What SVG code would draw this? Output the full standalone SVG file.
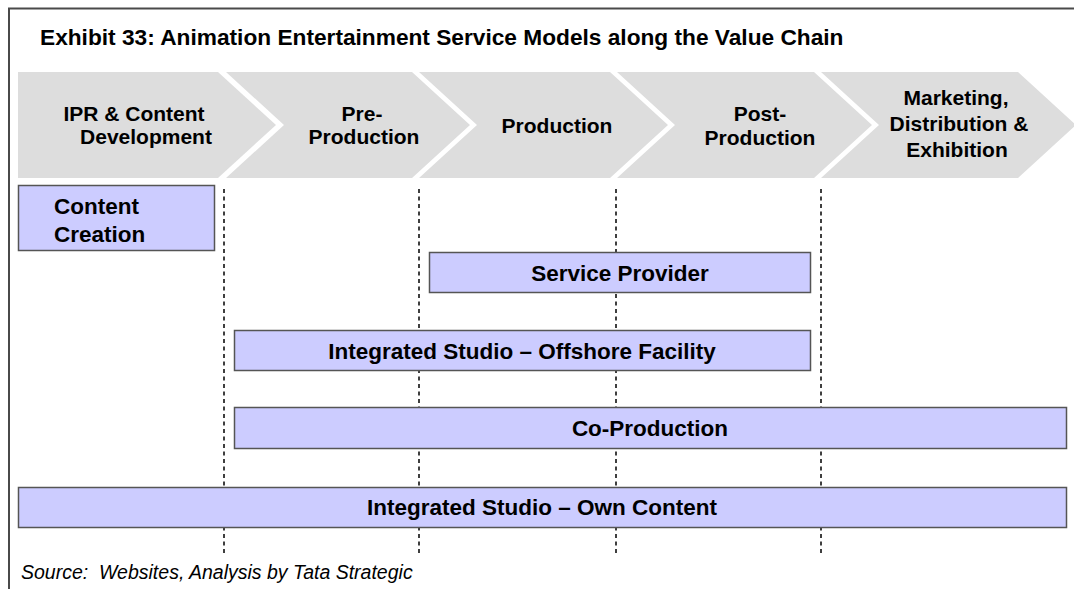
<svg xmlns="http://www.w3.org/2000/svg" width="1074" height="589" viewBox="0 0 1074 589">
<style>
  .frame{fill:none;stroke:#4a4a4a;stroke-width:2}
  .chev{fill:#dddddd;stroke:none}
  .ct{font-family:"Liberation Sans",Arial,sans-serif;font-weight:bold;font-size:21px;fill:#000;text-anchor:middle}
  .bar{fill:#ccccff;stroke:#555555;stroke-width:1.5}
  .bt{font-family:"Liberation Sans",Arial,sans-serif;font-weight:bold;font-size:22.5px;fill:#000;text-anchor:middle}
  .title{font-family:"Liberation Sans",Arial,sans-serif;font-weight:bold;font-size:22.7px;fill:#000}
  .src{font-family:"Liberation Sans",Arial,sans-serif;font-style:italic;font-size:19.5px;fill:#000;white-space:pre}
  .dash{stroke:#000;stroke-width:1.5;stroke-dasharray:4 3.5;fill:none}
</style>
<rect width="1074" height="589" fill="#ffffff"/>
<path class="frame" d="M9,589 V8.5 H1074"/>
<text class="title" x="40" y="45">Exhibit 33: Animation Entertainment Service Models along the Value Chain</text>

<g id="connectors">
  <line class="dash" x1="224" y1="189" x2="224" y2="555"/>
  <line class="dash" x1="419" y1="189" x2="419" y2="555"/>
  <line class="dash" x1="616" y1="189" x2="616" y2="555"/>
  <line class="dash" x1="821" y1="189" x2="821" y2="555"/>
</g>

<g id="stage-ipr">
  <polygon class="chev" points="18,72 218,72 276,125 218,178 18,178"/>
  <text class="ct" x="134" y="121">IPR &amp; Content</text>
  <text class="ct" x="146" y="144">Development</text>
</g>
<g id="stage-pre">
  <polygon class="chev" points="226,72 412,72 470,125 412,178 226,178 284,125"/>
  <text class="ct" x="362" y="121">Pre-</text>
  <text class="ct" x="364" y="144">Production</text>
</g>
<g id="stage-production">
  <polygon class="chev" points="419,72 610,72 668,125 610,178 419,178 477,125"/>
  <text class="ct" x="557" y="133">Production</text>
</g>
<g id="stage-post">
  <polygon class="chev" points="617,72 814,72 872,125 814,178 617,178 675,125"/>
  <text class="ct" x="760" y="121">Post-</text>
  <text class="ct" x="760" y="145">Production</text>
</g>
<g id="stage-marketing">
  <polygon class="chev" points="821,72 1018,72 1076,125 1018,178 821,178 879,125"/>
  <text class="ct" x="956" y="105">Marketing,</text>
  <text class="ct" x="959" y="131">Distribution &amp;</text>
  <text class="ct" x="957" y="157">Exhibition</text>
</g>

<g id="content-creation">
  <rect class="bar" x="18.5" y="185.5" width="196" height="65"/>
  <text class="bt" x="54" y="214" style="text-anchor:start">Content</text>
  <text class="bt" x="54" y="242" style="text-anchor:start">Creation</text>
</g>
<g id="service-provider">
  <rect class="bar" x="429.5" y="252.5" width="381" height="40"/>
  <text class="bt" x="620" y="281">Service Provider</text>
</g>
<g id="integrated-offshore">
  <rect class="bar" x="234.5" y="330.5" width="576" height="40"/>
  <text class="bt" x="522" y="359">Integrated Studio – Offshore Facility</text>
</g>
<g id="co-production">
  <rect class="bar" x="234.5" y="407.5" width="832" height="41"/>
  <text class="bt" x="650" y="436">Co-Production</text>
</g>
<g id="integrated-own">
  <rect class="bar" x="18.5" y="487.5" width="1048" height="40"/>
  <text class="bt" x="542" y="515">Integrated Studio – Own Content</text>
</g>

<text class="src" x="21" y="579">Source:  Websites, Analysis by Tata Strategic</text>
</svg>
